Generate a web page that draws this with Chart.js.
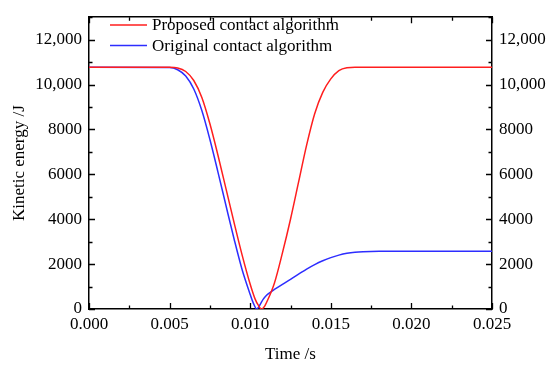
<!DOCTYPE html>
<html>
<head>
<meta charset="utf-8">
<script src="https://cdn.jsdelivr.net/npm/chart.js@4/dist/chart.umd.min.js"></script>
<style>
  html, body { margin: 0; padding: 0; background: #fff; }
  canvas { display: block; }
</style>
</head>
<body>
<canvas id="chart" width="550" height="368"></canvas>
<script>
// series
const seriesLabels = ['Proposed contact algorithm', 'Original contact algorithm'];

const redTime = [0, 0.005, 0.0055, 0.006, 0.0065, 0.007, 0.0075, 0.008, 0.0085, 0.009, 0.0095, 0.010, 0.0103, 0.0105, 0.0107, 0.0109, 0.011, 0.0115, 0.012, 0.0125, 0.013, 0.0135, 0.014, 0.0145, 0.015, 0.0155, 0.016, 0.0165, 0.025];
const redEnergy = [10770, 10770, 10740, 10580, 10180, 9420, 8250, 6850, 5350, 3850, 2400, 1100, 450, 170, 0, 130, 270, 1150, 2500, 4000, 5650, 7300, 8700, 9650, 10250, 10620, 10750, 10770, 10770];

const blueTime = [0, 0.005, 0.0055, 0.006, 0.0065, 0.007, 0.0075, 0.008, 0.0085, 0.009, 0.0095, 0.010, 0.0102, 0.0104, 0.0106, 0.0108, 0.011, 0.0112, 0.0115, 0.012, 0.0125, 0.013, 0.0135, 0.014, 0.0145, 0.015, 0.0155, 0.016, 0.0165, 0.017, 0.018, 0.019, 0.025];
const blueEnergy = [10770, 10760, 10660, 10380, 9800, 8840, 7550, 6100, 4600, 3120, 1750, 650, 250, 0, 180, 430, 600, 720, 870, 1100, 1320, 1550, 1780, 1980, 2150, 2290, 2400, 2480, 2530, 2555, 2570, 2570, 2570];

const xMin = 0, xMax = 0.025, xStep = 0.0025;
const yMin = 0, yMax = 13000, yStep = 1000;

const FONT = 'Liberation Serif';

function pts(xs, ys) { return xs.map((x, i) => ({ x: x, y: ys[i] })); }

function yLabel(v) {
  if (v % 2000 !== 0) return '';
  return v >= 10000 ? v.toLocaleString('en-US') : String(v);
}
function xLabel(v) {
  const k = Math.round(v / xStep);
  return k % 2 === 0 ? v.toFixed(3) : '';
}

// tick marks pointing into the plot box, long for labelled ticks
const inwardTicks = {
  id: 'inwardTicks',
  afterDraw(chart) {
    const ctx = chart.ctx, a = chart.chartArea;
    ctx.save();
    ctx.strokeStyle = '#000';
    ctx.lineWidth = 1.3;
    ctx.beginPath();
    chart.scales.x.ticks.forEach(t => {
      const px = Math.round(chart.scales.x.getPixelForValue(t.value)) + 0.5;
      const len = Math.round(t.value / xStep) % 2 === 0 ? 6 : 3.5;
      ctx.moveTo(px, a.bottom); ctx.lineTo(px, a.bottom - len);
      ctx.moveTo(px, a.top); ctx.lineTo(px, a.top + len);
    });
    chart.scales.y.ticks.forEach(t => {
      const py = Math.round(chart.scales.y.getPixelForValue(t.value)) + 0.5;
      const len = t.value % 2000 === 0 ? 6 : 3.5;
      ctx.moveTo(a.left, py); ctx.lineTo(a.left + len, py);
      ctx.moveTo(a.right, py); ctx.lineTo(a.right - len, py);
    });
    ctx.stroke();
    ctx.restore();
  }
};

// legend in the upper left of the plot box
const boxLegend = {
  id: 'boxLegend',
  afterDraw(chart) {
    const ctx = chart.ctx;
    ctx.save();
    ctx.font = '17px "' + FONT + '"';
    ctx.textBaseline = 'middle';
    ctx.fillStyle = '#000';
    chart.data.datasets.forEach((ds, i) => {
      const y = 25 + i * 20.5;
      ctx.strokeStyle = ds.borderColor;
      ctx.lineWidth = 1.5;
      ctx.beginPath(); ctx.moveTo(110, y); ctx.lineTo(147, y); ctx.stroke();
      ctx.fillText(ds.label, 152, y + 1);
    });
    ctx.restore();
  }
};

const tickFont = { family: FONT, size: 17 };

new Chart(document.getElementById('chart'), {
  type: 'line',
  data: {
    datasets: [
      { label: seriesLabels[0], data: pts(redTime, redEnergy), borderColor: 'rgb(255,30,30)' },
      { label: seriesLabels[1], data: pts(blueTime, blueEnergy), borderColor: 'rgb(45,45,255)' }
    ]
  },
  options: {
    responsive: false,
    animation: false,
    layout: { padding: 0 },
    elements: {
      line: { borderWidth: 1.5, fill: false, cubicInterpolationMode: 'monotone' },
      point: { radius: 0 }
    },
    plugins: { legend: { display: false }, tooltip: { enabled: false } },
    scales: {
      x: {
        type: 'linear', position: 'bottom', min: xMin, max: xMax,
        afterFit: s => { s.height = 59; },
        grid: { display: false, drawTicks: false },
        border: { color: '#000', width: 1.5 },
        ticks: { stepSize: xStep, autoSkip: false, maxRotation: 0, padding: 5, color: '#000', font: tickFont, callback: xLabel },
        title: { display: true, text: 'Time /s', color: '#000', font: tickFont, padding: { top: 0, bottom: 3 } }
      },
      x2: {
        type: 'linear', position: 'top', min: xMin, max: xMax,
        afterFit: s => { s.height = 9; },
        grid: { display: false, drawTicks: false },
        border: { color: '#000', width: 1.5 },
        ticks: { display: false, stepSize: xStep }
      },
      y: {
        type: 'linear', position: 'left', min: yMin, max: yMax,
        afterFit: s => { s.width = 89; },
        grid: { display: false, drawTicks: false },
        border: { color: '#000', width: 1.5 },
        ticks: { stepSize: yStep, autoSkip: false, padding: 7, color: '#000', font: tickFont, callback: yLabel },
        title: { display: true, text: 'Kinetic energy /J', color: '#000', font: tickFont, padding: { top: 9, bottom: 0 } }
      },
      y2: {
        type: 'linear', position: 'right', min: yMin, max: yMax,
        afterFit: s => { s.width = 58; },
        grid: { display: false, drawTicks: false },
        border: { color: '#000', width: 1.5 },
        ticks: { stepSize: yStep, autoSkip: false, padding: 7, color: '#000', font: tickFont, callback: yLabel }
      }
    }
  },
  plugins: [inwardTicks, boxLegend]
});
</script>
</body>
</html>
